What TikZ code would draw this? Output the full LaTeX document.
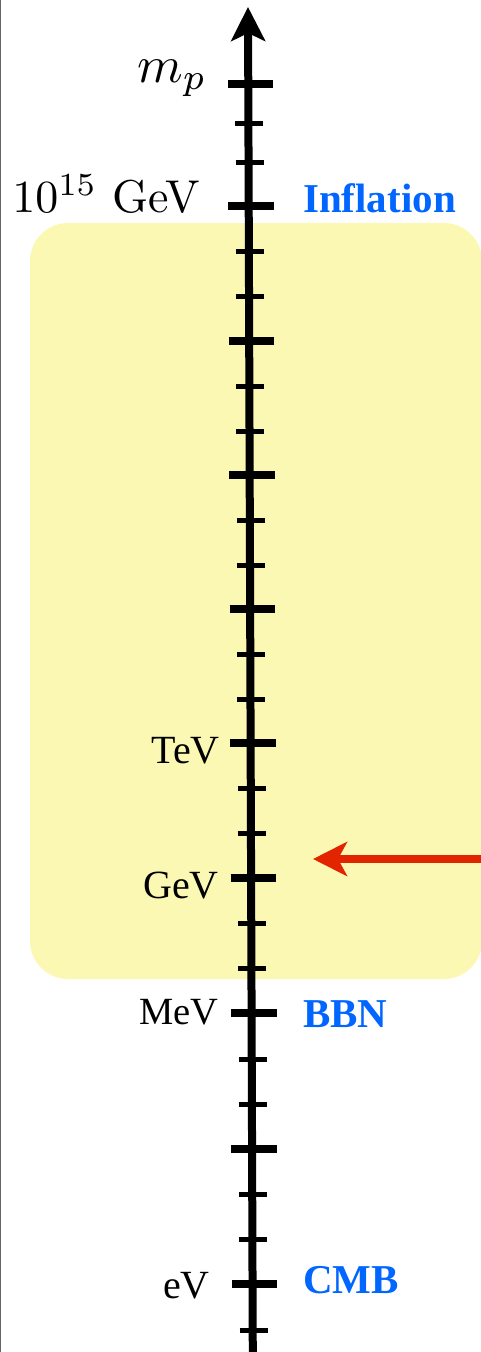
\documentclass[tikz,border=0pt]{standalone}
\usepackage{fontspec}
\usepackage{graphicx}
\newfontfamily\tms{Liberation Serif}
\usetikzlibrary{arrows.meta}
\definecolor{boxyellow}{RGB}{251,248,180}
\definecolor{arrred}{RGB}{226,37,0}
\definecolor{lblblue}{RGB}{0,102,255}
\begin{document}
\begin{tikzpicture}[x=1pt,y=-1pt,
  lbl/.style={inner sep=0pt, anchor=base east, font=\tms\fontsize{40}{44}\selectfont},
  era/.style={inner sep=0pt, anchor=base west, text=lblblue, font=\tms\bfseries\fontsize{41}{45}\selectfont},
  mathlbl/.style={inner sep=0pt, anchor=base east},
  majortick/.style={line width=8pt},
  minortick/.style={line width=5pt},
  axisline/.style={line width=8pt, -{Stealth[length=34pt,width=34pt,inset=8pt]}},
  redarrow/.style={draw=arrred, line width=8pt, -{Stealth[length=34pt,width=34pt,inset=9pt]}}]
\useasboundingbox (0,0) rectangle (480,1352);
% highlighted band
\fill[boxyellow, rounded corners=38pt] (30,223) rectangle (482,979);
% left frame line
\draw[black!60, line width=1.2pt] (0.8,-2) -- (0.8,1354);
% axis
\coordinate (axbot) at (252.8,1356);
\coordinate (axtop) at (248,7);
\draw[axisline] (axbot) -- (axtop);
% major ticks
\foreach \yy in {84,206,341,475,609,743,878,1013,1149,1284} {
  \pgfmathsetmacro\ax{248+0.0035*(\yy-7)}
  \draw[majortick] (\ax-20.5,\yy) -- (\ax+25,\yy);
}
% minor ticks
\foreach \yy in {123,162,251,296,386,431,520,565,654,699,788,833,923,968,1059,1104,1194,1239,1330} {
  \pgfmathsetmacro\ax{248+0.0035*(\yy-7)}
  \draw[minortick] (\ax-13,\yy) -- (\ax+15,\yy);
}
% scale labels
\node[mathlbl] (mp) at (207,82) {\scalebox{5.2}{$m_p$}};
\node[mathlbl] (gut) at (200,212) {\scalebox{4.6}{$10^{15}$ GeV}};
\node[lbl] (tev) at (220,763) {TeV};
\node[lbl] (gev) at (219,898) {GeV};
\node[lbl, font=\tms\fontsize{38.5}{42}\selectfont] (mev) at (219,1024) {MeV};
\node[lbl] (ev) at (210,1298) {eV};
% epochs
\node[era] (infl) at (303,212) {Inflation};
\node[era] (bbn) at (303,1027) {BBN};
\node[era] (cmb) at (303,1293) {CMB};
% red arrow
\coordinate (rstart) at (484,859);
\coordinate (rtip) at (313,859);
\draw[redarrow] (rstart) -- (rtip);
\end{tikzpicture}
\end{document}
